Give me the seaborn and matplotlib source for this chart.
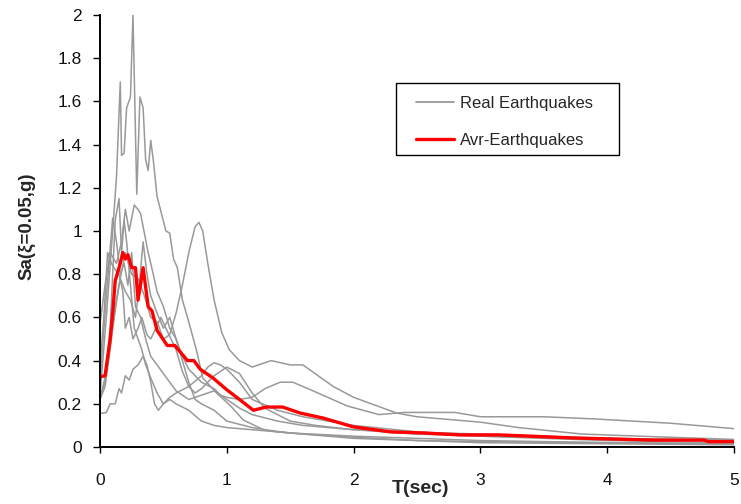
import matplotlib
matplotlib.use("Agg")
import matplotlib.pyplot as plt
from matplotlib.lines import Line2D
from matplotlib.patches import Rectangle
from matplotlib.ticker import FuncFormatter
import numpy as np
import pandas as pd
import seaborn as sns

# ---------------- data ----------------
t_eq1 = [0, 0.05, 0.1, 0.13, 0.16, 0.17, 0.19, 0.21, 0.24, 0.26, 0.29, 0.315, 0.34, 0.36,
         0.38, 0.40, 0.42, 0.45, 0.52, 0.55, 0.58, 0.61, 0.65, 0.69, 0.76, 0.81, 0.92, 1.03,
         1.13, 1.29, 1.5, 2.0, 2.5, 3.0, 4.0, 5.0]
sa_eq1 = [0.24, 0.6, 1.0, 1.25, 1.69, 1.35, 1.36, 1.57, 1.62, 2.0, 1.17, 1.62, 1.57, 1.33,
          1.28, 1.42, 1.33, 1.16, 1.0, 0.99, 0.87, 0.83, 0.68, 0.6, 0.45, 0.32, 0.25, 0.19,
          0.125, 0.08, 0.065, 0.05, 0.04, 0.03, 0.02, 0.015]

t_eq2 = [0, 0.05, 0.1, 0.15, 0.2, 0.25, 0.3, 0.35, 0.4, 0.45, 0.5, 0.55, 0.6, 0.65, 0.7,
         0.75, 0.78, 0.81, 0.85, 0.9, 0.96, 1.02, 1.1, 1.2, 1.35, 1.5, 1.6, 1.84, 2.0, 2.34,
         2.5, 3.0, 3.3, 3.8, 4.5, 5.0]
sa_eq2 = [0.22, 0.35, 0.55, 0.75, 0.9, 0.8, 0.78, 0.7, 0.6, 0.58, 0.5, 0.52, 0.62, 0.75, 0.9,
          1.02, 1.04, 1.0, 0.85, 0.68, 0.53, 0.45, 0.40, 0.37, 0.40, 0.38, 0.38, 0.28, 0.23,
          0.157, 0.14, 0.115, 0.09, 0.06, 0.045, 0.035]

t_eq3 = [0, 0.04, 0.08, 0.1, 0.13, 0.17, 0.2, 0.23, 0.27, 0.3, 0.32, 0.35, 0.38, 0.42, 0.45,
         0.5, 0.55, 0.6, 0.65, 0.7, 0.8, 0.9, 0.95, 1.0, 1.1, 1.2, 1.3, 1.42, 1.52, 1.68,
         1.95, 2.2, 2.4, 2.6, 2.8, 3.0, 3.5, 3.9, 4.5, 5.0]
sa_eq3 = [0.57, 0.75, 0.9, 0.88, 0.85, 0.95, 1.1, 1.0, 1.12, 1.1, 1.08, 0.99, 0.9, 0.8, 0.72,
          0.65, 0.55, 0.5, 0.42, 0.36, 0.3, 0.27, 0.24, 0.23, 0.22, 0.23, 0.27, 0.30, 0.30,
          0.26, 0.19, 0.15, 0.16, 0.16, 0.16, 0.14, 0.14, 0.13, 0.11, 0.085]

t_eq4 = [0, 0.05, 0.08, 0.12, 0.15, 0.17, 0.2, 0.23, 0.26, 0.3, 0.34, 0.37, 0.4, 0.43, 0.46,
         0.5, 0.55, 0.6, 0.7, 0.8, 0.85, 0.9, 0.95, 1.0, 1.1, 1.2, 1.4, 1.6, 1.8, 2.0, 2.5,
         3.0, 4.0, 5.0]
sa_eq4 = [0.155, 0.16, 0.2, 0.2, 0.27, 0.25, 0.33, 0.31, 0.36, 0.38, 0.42, 0.38, 0.3, 0.2,
          0.17, 0.2, 0.23, 0.25, 0.28, 0.33, 0.37, 0.39, 0.38, 0.36, 0.3, 0.22, 0.17, 0.14,
          0.12, 0.1, 0.07, 0.05, 0.03, 0.02]

t_eq5 = [0, 0.04, 0.08, 0.1, 0.12, 0.15, 0.17, 0.19, 0.21, 0.24, 0.27, 0.3, 0.33, 0.36, 0.4,
         0.45, 0.5, 0.55, 0.6, 0.7, 0.8, 0.9, 1.0, 1.2, 1.4, 1.6, 1.8, 2.0, 2.5, 3.0, 4.0, 5.0]
sa_eq5 = [0.23, 0.3, 0.55, 0.8, 1.05, 1.15, 0.9, 1.05, 0.95, 0.75, 0.55, 0.5, 0.45, 0.38, 0.32,
          0.25, 0.2, 0.22, 0.2, 0.17, 0.12, 0.1, 0.09, 0.08, 0.07, 0.06, 0.05, 0.04, 0.03,
          0.02, 0.015, 0.01]

t_eq6 = [0, 0.03, 0.06, 0.09, 0.12, 0.15, 0.18, 0.2, 0.23, 0.26, 0.3, 0.33, 0.37, 0.4, 0.44,
         0.48, 0.52, 0.56, 0.6, 0.65, 0.7, 0.75, 0.8, 0.9, 1.0, 1.1, 1.2, 1.3, 1.5, 1.7, 2.0,
         2.5, 3.0, 4.0, 5.0]
sa_eq6 = [0.38, 0.6, 0.9, 0.85, 0.82, 0.8, 0.72, 0.55, 0.6, 0.5, 0.55, 0.6, 0.52, 0.5, 0.55,
          0.6, 0.55, 0.5, 0.45, 0.35, 0.28, 0.25, 0.27, 0.33, 0.37, 0.34, 0.25, 0.18, 0.12,
          0.1, 0.08, 0.06, 0.05, 0.04, 0.03]

t_eq7 = [0, 0.04, 0.08, 0.12, 0.16, 0.2, 0.24, 0.28, 0.31, 0.34, 0.37, 0.4, 0.45, 0.5, 0.55,
         0.6, 0.65, 0.7, 0.75, 0.8, 0.9, 1.0, 1.2, 1.4, 1.6, 2.0, 2.5, 3.0, 4.0, 5.0]
sa_eq7 = [0.22, 0.28, 0.45, 0.65, 0.78, 0.72, 0.68, 0.6, 0.75, 0.95, 0.8, 0.7, 0.62, 0.55, 0.6,
          0.5, 0.4, 0.3, 0.22, 0.2, 0.17, 0.12, 0.09, 0.07, 0.06, 0.045, 0.03, 0.025, 0.02,
          0.015]

t_eq8 = [0, 0.05, 0.1, 0.13, 0.16, 0.19, 0.22, 0.25, 0.28, 0.32, 0.36, 0.4, 0.45, 0.5, 0.55,
         0.6, 0.7, 0.8, 0.9, 1.0, 1.1, 1.2, 1.4, 1.6, 1.8, 2.0, 2.4, 3.0, 3.5, 4.0, 5.0]
sa_eq8 = [0.3, 0.7, 1.06, 0.95, 0.8, 0.85, 0.75, 0.9, 0.65, 0.6, 0.5, 0.42, 0.38, 0.34, 0.3,
          0.26, 0.22, 0.24, 0.26, 0.22, 0.18, 0.15, 0.12, 0.1, 0.09, 0.08, 0.07, 0.06, 0.05,
          0.04, 0.03]

t_avr = [0, 0.04, 0.08, 0.10, 0.12, 0.16, 0.18, 0.20, 0.22, 0.25, 0.28, 0.30, 0.34, 0.38,
         0.41, 0.45, 0.53, 0.59, 0.64, 0.69, 0.74, 0.79, 0.89, 1.0, 1.1, 1.21, 1.31, 1.44,
         1.58, 1.76, 2.0, 2.29, 2.55, 2.84, 3.15, 3.73, 4.36, 4.76, 4.8, 5.0]
sa_avr = [0.325, 0.33, 0.50, 0.62, 0.77, 0.85, 0.90, 0.87, 0.89, 0.83, 0.83, 0.68, 0.83, 0.65,
          0.63, 0.54, 0.47, 0.47, 0.435, 0.40, 0.40, 0.36, 0.32, 0.265, 0.22, 0.17, 0.185,
          0.185, 0.157, 0.134, 0.093, 0.07, 0.065, 0.056, 0.056, 0.042, 0.032, 0.032, 0.025,
          0.025]

x_ticks = [0, 1, 2, 3, 4, 5]
y_ticks = [0, 0.2, 0.4, 0.6, 0.8, 1.0, 1.2, 1.4, 1.6, 1.8, 2.0]
legend_labels = ["Real Earthquakes", "Avr-Earthquakes"]
x_label = "T(sec)"
y_label = "Sa(ξ=0.05,g)"

# ---------------- build tables ----------------
eqs = [(t_eq1, sa_eq1), (t_eq2, sa_eq2), (t_eq3, sa_eq3), (t_eq4, sa_eq4),
       (t_eq5, sa_eq5), (t_eq6, sa_eq6), (t_eq7, sa_eq7), (t_eq8, sa_eq8)]
frames = []
for i, (t, s) in enumerate(eqs):
    frames.append(pd.DataFrame({"T": t, "Sa": s, "eq": f"EQ{i+1}"}))
df_real = pd.concat(frames, ignore_index=True)
df_avr = pd.DataFrame({"T": t_avr, "Sa": sa_avr})

# ---------------- style ----------------
sns.set_style("ticks")
plt.rcParams["font.family"] = ["Liberation Sans", "DejaVu Sans"]

GREY = "#999999"
RED = "#ff0000"

fig = plt.figure(figsize=(7.41, 5.04), dpi=100)
ax = fig.add_axes([100 / 741, 57 / 504, 634 / 741, 432 / 504])

sns.lineplot(data=df_real, x="T", y="Sa", units="eq", estimator=None, sort=False,
             color=GREY, linewidth=1.1, ax=ax, legend=False)
sns.lineplot(data=df_avr, x="T", y="Sa", sort=False, estimator=None,
             color=RED, linewidth=2.4, ax=ax, legend=False)

ax.set_xlim(0, 5)
ax.set_ylim(0, 2)
ax.set_xticks(x_ticks)
ax.set_yticks(y_ticks)
ax.yaxis.set_major_formatter(FuncFormatter(lambda v, p: f"{v:g}"))
ax.xaxis.set_major_formatter(FuncFormatter(lambda v, p: f"{v:g}"))

for side in ["top", "right"]:
    ax.spines[side].set_visible(False)
for side in ["left", "bottom"]:
    ax.spines[side].set_color("black")
    ax.spines[side].set_linewidth(1.4)

ax.tick_params(axis="x", direction="out", length=4, width=1, color="black",
               labelsize=12.5, pad=15, labelcolor="#111111")
ax.tick_params(axis="y", direction="out", length=5, width=1, color="black",
               labelsize=12.5, pad=8, labelcolor="#111111")

ax.set_xlabel(x_label, fontsize=14, fontweight="bold")
ax.set_ylabel(y_label, fontsize=13.5, fontweight="bold")
ax.xaxis.set_label_coords(0.505, -0.076)
ax.yaxis.set_label_coords(-0.1025, 0.512)

# legend
handles = [Line2D([], [], color=GREY, linewidth=1.3),
           Line2D([], [], color=RED, linewidth=2.4)]
leg = ax.legend(handles, legend_labels, loc="upper left",
                bbox_to_anchor=((416 - 100) / 634, (447 - 96) / 432),
                borderaxespad=0, borderpad=0, frameon=False, fontsize=12,
                handlelength=2.3, handletextpad=0.35, labelspacing=1.3)
box = Rectangle(((396 - 100) / 634, (447 - 155) / 432), 223 / 634, 72 / 432,
                transform=ax.transAxes, fill=False, edgecolor="black",
                linewidth=1.0, zorder=5)
ax.add_patch(box)

fig.savefig("out.png", dpi=100)
